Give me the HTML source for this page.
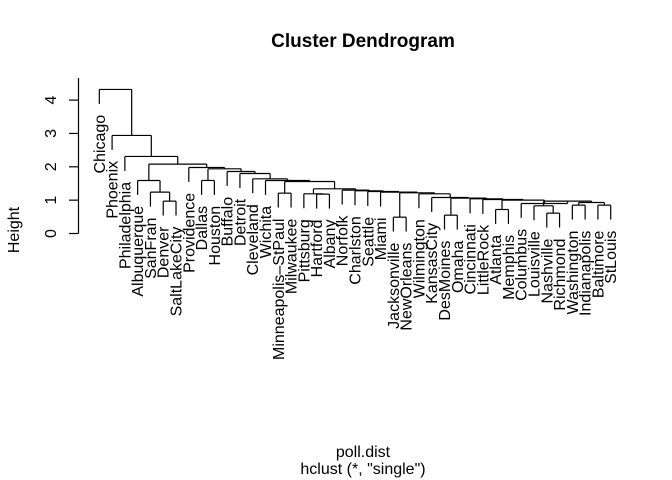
<!DOCTYPE html>
<html><head><meta charset="utf-8"><style>
body{margin:0;background:#fff}
svg{display:block;font-family:"Liberation Sans",Arial,sans-serif}
</style></head><body>
<svg id="chart" width="672" height="480" viewBox="0 0 672 480" xmlns="http://www.w3.org/2000/svg">
<text x="363" y="47" text-anchor="middle" font-weight="bold" font-size="19">Cluster Dendrogram</text>
<text x="363" y="457" text-anchor="middle" font-size="16">poll.dist</text>
<text x="363" y="474" text-anchor="middle" font-size="16">hclust (*, "single")</text>
<text x="0" y="0" transform="translate(19,230) rotate(-90)" text-anchor="middle" font-size="16">Height</text>
<g id="yaxis"></g>
<g id="tree"></g>
<g id="labels"></g>
</svg>
<script>
const yTicks=[0,1,2,3,4];
const yTickLabels=["0","1","2","3","4"];
// tree: [left, right, height]; leaves are strings
const rightTree=["Norfolk",["Charlston",["Seattle",["Miami",[["Jacksonville","NewOrleans",0.49],["Wilmington",["KansasCity",[["DesMoines","Omaha",0.55],["Cincinnati",["LittleRock",[["Atlanta","Memphis",0.72],["Columbus",[["Louisville",["Nashville","Richmond",0.61],0.83],[["Washington","Indianapolis",0.85],["Baltimore","StLouis",0.85],0.93],0.97],0.9],1.0],1.02],1.04],1.06],1.08],1.19],1.22],1.24],1.26],1.28],1.3];
const midTree=["Cleveland",["Wichita",[["Minneapolis\u2013StPaul","Milwaukee",1.21],[["Pittsburg",["Hartford","Albany",1.18],1.19],rightTree,1.34],1.56],1.59],1.64];
const tree=["Chicago",["Phoenix",["Philadelphia",[["Albuquerque",["SanFran",["Denver","SaltLakeCity",0.97],1.24],1.59],["Providence",[["Dallas","Houston",1.59],["Buffalo",["Detroit",midTree,1.8],1.86],1.94],1.98],2.08],2.31],2.94],4.32];

const NS="http://www.w3.org/2000/svg";
const y0=233.5,pxPerUnit=33.35;
function yS(h){return y0-h*pxPerUnit;}
const xStart=99.3,xStep=12.785;
function xS(i){return xStart+xStep*i;}
const hang=0.1*4.32;
const treeG=document.getElementById('tree'),labG=document.getElementById('labels'),axG=document.getElementById('yaxis');
function line(g,x1,y1,x2,y2,name){
  const l=document.createElementNS(NS,'line');
  l.setAttribute('x1',x1);l.setAttribute('y1',y1);l.setAttribute('x2',x2);l.setAttribute('y2',y2);
  l.setAttribute('stroke','#000');l.setAttribute('stroke-width','1.2');
  
  
  g.appendChild(l);
}
let leafIdx=0;
function layout(node){
  if(typeof node==='string'){const i=leafIdx++;return {x:xS(i),leaf:true,name:node};}
  const a=layout(node[0]),b=layout(node[1]),h=node[2],y=yS(h);
  [a,b].forEach(c=>{
    let yb;
    if(c.leaf){
      yb=yS(h-hang);
      const t=document.createElementNS(NS,'text');
      t.textContent=c.name;
      t.setAttribute('transform','translate('+(c.x+5.5)+','+(yb+11)+') rotate(-90)');
      t.setAttribute('text-anchor','end');t.setAttribute('font-size','16');
      
      
      labG.appendChild(t);
    } else yb=c.y;
    line(treeG,c.x,y,c.x,yb,'branch-vertical');
  });
  line(treeG,a.x,y,b.x,y,'merge-horizontal');
  return {x:(a.x+b.x)/2,y:y,leaf:false};
}
const root=layout(tree);
line(axG,78.5,78,78.5,yS(0),'y-axis-line');
yTicks.forEach((v,k)=>{
  line(axG,69,yS(v),78.5,yS(v),'y-tick');
  const t=document.createElementNS(NS,'text');
  t.textContent=yTickLabels[k];
  t.setAttribute('transform','translate(56,'+yS(v)+') rotate(-90)');
  t.setAttribute('text-anchor','middle');t.setAttribute('font-size','16');
  
  
  axG.appendChild(t);
});
</script>
</body></html>
